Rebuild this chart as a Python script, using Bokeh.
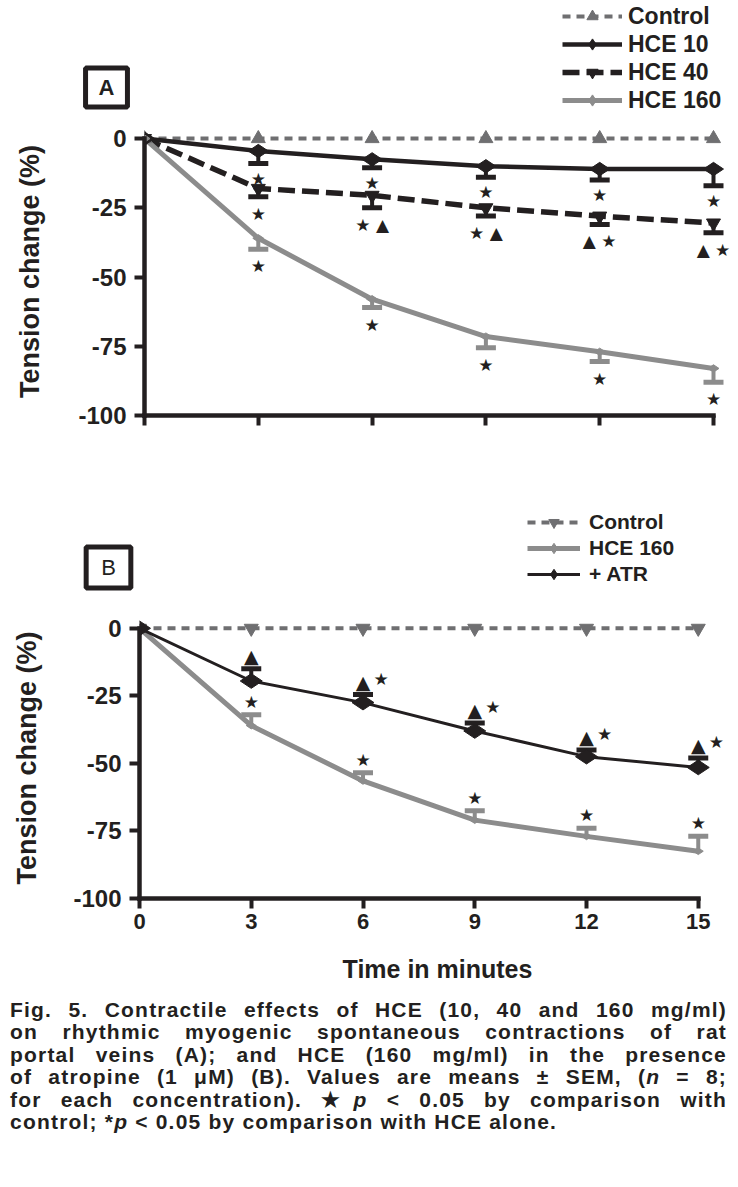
import math
from bokeh.plotting import figure
from bokeh.models import (ColumnDataSource, Whisker, TeeHead, Legend, LegendItem,
                          Label, Range1d, FixedTicker, Div)
from bokeh.layouts import column
from bokeh.core.properties import value
from bokeh.embed import file_html
from bokeh.resources import INLINE

# ---------------- data ----------------
times = [0, 3, 6, 9, 12, 15]
err_times = [3, 6, 9, 12, 15]
x_ticks = [0, 3, 6, 9, 12, 15]
y_ticks = [0, -25, -50, -75, -100]

# Panel A
a_control = [0, 0, 0, 0, 0, 0]
a_hce10 = [0, -4.5, -7.5, -10, -11, -11]
a_hce40 = [0, -18, -20.5, -25, -28, -30.5]
a_hce160 = [0, -36, -58, -71.5, -77, -83]
a_hce10_sem = [4.5, 3, 4, 4, 6]
a_hce40_sem = [3, 4.5, 3, 3, 3.5]
a_hce160_sem = [4, 3, 4, 3.5, 5]
a_hce10_sig = ["★", "★", "★", "★", "★"]
a_hce40_sig = ["★", "★ ▲", "★ ▲", "▲ ★", "▲ ★"]
a_hce160_sig = ["★", "★", "★", "★", "★"]

# Panel B
b_control = [0, 0, 0, 0, 0, 0]
b_hce160 = [0, -36, -56.5, -71, -77, -82.5]
b_atr = [0, -19.5, -27.5, -38, -47.5, -51.5]
b_hce160_sem = [4, 3, 3.5, 3, 5.5]
b_atr_sem = [4.5, 3, 3, 2.5, 3.5]
b_hce160_sig = ["★", "★", "★", "★", "★"]
b_atr_tri = ["▲", "▲", "▲", "▲", "▲"]
b_atr_star = ["", "★", "★", "★", "★"]

caption_lines = [
    "Fig. 5. Contractile effects of HCE (10, 40 and 160 mg/ml)",
    "on rhythmic myogenic spontaneous contractions of rat",
    "portal veins (A); and HCE (160 mg/ml) in the presence",
    "of atropine (1 μM) (B). Values are means ± SEM, (<i>n</i> = 8;",
    "for each concentration). ★<i>p</i> &lt; 0.05 by comparison with",
    "control; *<i>p</i> &lt; 0.05 by comparison with HCE alone.",
]

# ---------------- styles ----------------
BLACK = "#231f20"
GREY = "#8c8c8c"
CTRL = "#6f6f71"
FONT = "Liberation Sans"
SYM = "DejaVu Sans"
W = 738


def clean(p):
    p.outline_line_color = None
    p.grid.visible = False
    p.background_fill_color = "white"
    p.border_fill_color = "white"
    try:
        p.frame_align = False
    except Exception:
        pass


def make_header(height):
    # header strip: its frame covers the whole strip so that the legend and
    # panel tag are drawn; the y-range lies far above the data so the legend
    # renderers (same data) leave no mark inside it.
    h = figure(width=W, height=height, x_range=Range1d(0, 15), y_range=Range1d(1000, 1001),
               output_backend="svg", toolbar_location=None, title=None,
               x_axis_type=None, y_axis_type=None,
               min_border_left=0, min_border_right=0, min_border_top=0, min_border_bottom=0)
    clean(h)
    return h


def make_fig(height, left, right, top, bottom, x_end, show_x_labels, lab_standoff):
    p = figure(width=W, height=height, x_range=Range1d(0, x_end),
               y_range=Range1d(-100, 4), output_backend="svg",
               toolbar_location=None, title=None,
               min_border_left=left, min_border_right=right,
               min_border_top=top, min_border_bottom=bottom)
    clean(p)
    for ax in (p.xaxis[0], p.yaxis[0]):
        ax.axis_line_width = 4.5
        ax.axis_line_color = BLACK
        ax.axis_line_cap = "square"
        ax.major_tick_line_width = 4
        ax.major_tick_line_color = BLACK
        ax.major_tick_out = 10
        ax.major_tick_in = 0
        ax.minor_tick_line_color = None
        ax.major_label_text_font = FONT
        ax.major_label_text_font_style = "bold"
        ax.major_label_text_color = BLACK
    p.xaxis.bounds = (0, 15)
    p.yaxis.bounds = (-100, 0)
    p.xaxis.ticker = FixedTicker(ticks=x_ticks)
    p.yaxis.ticker = FixedTicker(ticks=y_ticks)
    p.yaxis.major_label_overrides = {t: str(t) for t in y_ticks}
    p.yaxis.major_label_text_font_size = "24px"
    p.yaxis.major_label_standoff = 8
    p.yaxis.axis_label = "Tension change (%)"
    p.yaxis.axis_label_text_font = FONT
    p.yaxis.axis_label_text_font_style = "bold"
    p.yaxis.axis_label_text_font_size = "27px"
    p.yaxis.axis_label_text_color = BLACK
    p.yaxis.axis_label_standoff = lab_standoff
    if show_x_labels:
        p.xaxis.major_label_overrides = {t: str(t) for t in x_ticks}
        p.xaxis.major_label_text_font_size = "22px"
        p.xaxis.major_label_standoff = 5
    else:
        p.xaxis.major_label_overrides = {t: "" for t in x_ticks}
        p.xaxis.major_label_text_font_size = "1px"
        p.xaxis.major_label_standoff = 0
    return p


def add_err(p, mean, sem, color, up):
    m = mean[1:]
    end = [a + s if up else a - s for a, s in zip(m, sem)]
    src = ColumnDataSource(data=dict(x=err_times, m=m, e=end))
    head = TeeHead(size=20, line_color=color, line_width=5)
    if up:
        w = Whisker(base="x", upper="e", lower="m", source=src,
                    upper_head=head, lower_head=None,
                    line_color=color, line_width=4)
    else:
        w = Whisker(base="x", upper="m", lower="e", source=src,
                    upper_head=None, lower_head=head,
                    line_color=color, line_width=4)
    p.add_layout(w)
    return end


def add_sig(p, ys, texts, dx, dy, size="17px"):
    keep = [i for i, t in enumerate(texts) if t]
    p.text(x=[err_times[i] for i in keep], y=[ys[i] for i in keep],
           text=[texts[i] for i in keep], x_offset=dx, y_offset=dy,
           text_align="center", text_baseline="middle",
           text_font=value(SYM), text_font_size=size, text_color=BLACK)


# series styles: (line kwargs, marker kwargs)
A_STYLES = {
    "Control": (dict(line_color=CTRL, line_width=4, line_dash="8 6"),
                dict(marker="triangle", size=14, color=CTRL)),
    "HCE 10": (dict(line_color=BLACK, line_width=4.5),
               dict(marker="diamond", angle=math.pi / 2, size=20, color=BLACK)),
    "HCE 40": (dict(line_color=BLACK, line_width=5.5, line_dash="17 7"),
               dict(marker="inverted_triangle", size=14, color=BLACK)),
    "HCE 160": (dict(line_color=GREY, line_width=5),
                dict(marker="diamond", angle=math.pi / 2, size=11, color=GREY)),
}
B_STYLES = {
    "Control": (dict(line_color=CTRL, line_width=4, line_dash="8 6"),
                dict(marker="inverted_triangle", size=14, color=CTRL)),
    "HCE 160": (dict(line_color=GREY, line_width=5),
                dict(marker="diamond", angle=math.pi / 2, size=10, color=GREY)),
    "+ ATR": (dict(line_color=BLACK, line_width=3),
              dict(marker="diamond", angle=math.pi / 2, size=22, color=BLACK)),
}


def draw_series(p, ys, style):
    lk, mk = style
    return p.line(times, ys, **lk), p.scatter(times, ys, **mk)


def add_legend(h, series, styles, loc, gw, gh, font_size, standoff):
    items = []
    for name, ys in series:
        l, s = draw_series(h, ys, styles[name])
        items.append(LegendItem(label=name, renderers=[l, s]))
    h.add_layout(Legend(items=items, location=loc, glyph_width=gw, glyph_height=gh,
                        spacing=0, padding=0, margin=0, label_standoff=standoff,
                        label_text_font=FONT, label_text_font_style="bold",
                        label_text_font_size=font_size, label_text_color=BLACK,
                        border_line_color=None, background_fill_alpha=0))


def add_tag(h, text, x, y, bold, pad):
    h.add_layout(Label(x=x, y=y, x_units="screen", y_units="screen", text=text,
                       text_align="center", text_baseline="middle",
                       text_font=FONT, text_font_style="bold" if bold else "normal",
                       text_font_size="22px", text_color=BLACK,
                       border_line_color=BLACK, border_line_width=5, padding=pad))


# ---------------- Panel A ----------------
a_series = [("Control", a_control), ("HCE 10", a_hce10),
            ("HCE 40", a_hce40), ("HCE 160", a_hce160)]

hA = make_header(120)
add_legend(hA, a_series, A_STYLES, (562, 6), 60, 28, "23px", 6)
add_tag(hA, "A", 106, 33, True, (13, 7))

pA = make_fig(325, 144, 3, 7, 30, 15.58, False, 30)
for n, ys in a_series:
    pA.line(times, ys, **A_STYLES[n][0])
e10 = add_err(pA, a_hce10, a_hce10_sem, BLACK, False)
e40 = add_err(pA, a_hce40, a_hce40_sem, BLACK, False)
e160 = add_err(pA, a_hce160, a_hce160_sem, GREY, False)
for n, ys in a_series:
    pA.scatter(times, ys, **A_STYLES[n][1])
add_sig(pA, e10, a_hce10_sig, 0, 15)
add_sig(pA, e40, a_hce40_sig, 0, 17)
add_sig(pA, e160, a_hce160_sig, 0, 17)

# ---------------- Panel B ----------------
b_series = [("Control", b_control), ("HCE 160", b_hce160), ("+ ATR", b_atr)]

hB = make_header(165)
add_legend(hB, b_series, B_STYLES, (527, 23), 53, 26, "21px", 9)
add_tag(hB, "B", 108, 43, False, (15, 8))

pB = make_fig(375, 139, 3, 7, 87, 16.0, True, 28)
pB.xaxis.axis_label = "Time in minutes"
pB.xaxis.axis_label_text_font = FONT
pB.xaxis.axis_label_text_font_style = "bold"
pB.xaxis.axis_label_text_font_size = "25px"
pB.xaxis.axis_label_text_color = BLACK
pB.xaxis.axis_label_standoff = 23

for n, ys in b_series:
    pB.line(times, ys, **B_STYLES[n][0])
f160 = add_err(pB, b_hce160, b_hce160_sem, GREY, True)
fatr = add_err(pB, b_atr, b_atr_sem, BLACK, True)
for n, ys in b_series:
    pB.scatter(times, ys, **B_STYLES[n][1])
add_sig(pB, f160, b_hce160_sig, 0, -13)
add_sig(pB, fatr, b_atr_tri, 0, -13, "19px")
add_sig(pB, fatr, b_atr_star, 18, -16)

# ---------------- caption ----------------
n = len(caption_lines)
rows = "".join(
    '<div style="text-align:justify;text-align-last:%s;">%s</div>'
    % ("justify" if i < n - 1 else "left", ln)
    for i, ln in enumerate(caption_lines))
cap = Div(text=('<div style="font-family:\'Liberation Sans\',Arial,sans-serif;'
                'font-weight:bold;font-size:21px;line-height:22.4px;letter-spacing:1.2px;'
                'color:#231f20;width:717px;">' + rows + '</div>'),
          width=720, margin=(14, 0, 0, 10))

layout = column(hA, pA, hB, pB, cap, spacing=0)
open("out.html", "w").write(file_html(layout, INLINE))
